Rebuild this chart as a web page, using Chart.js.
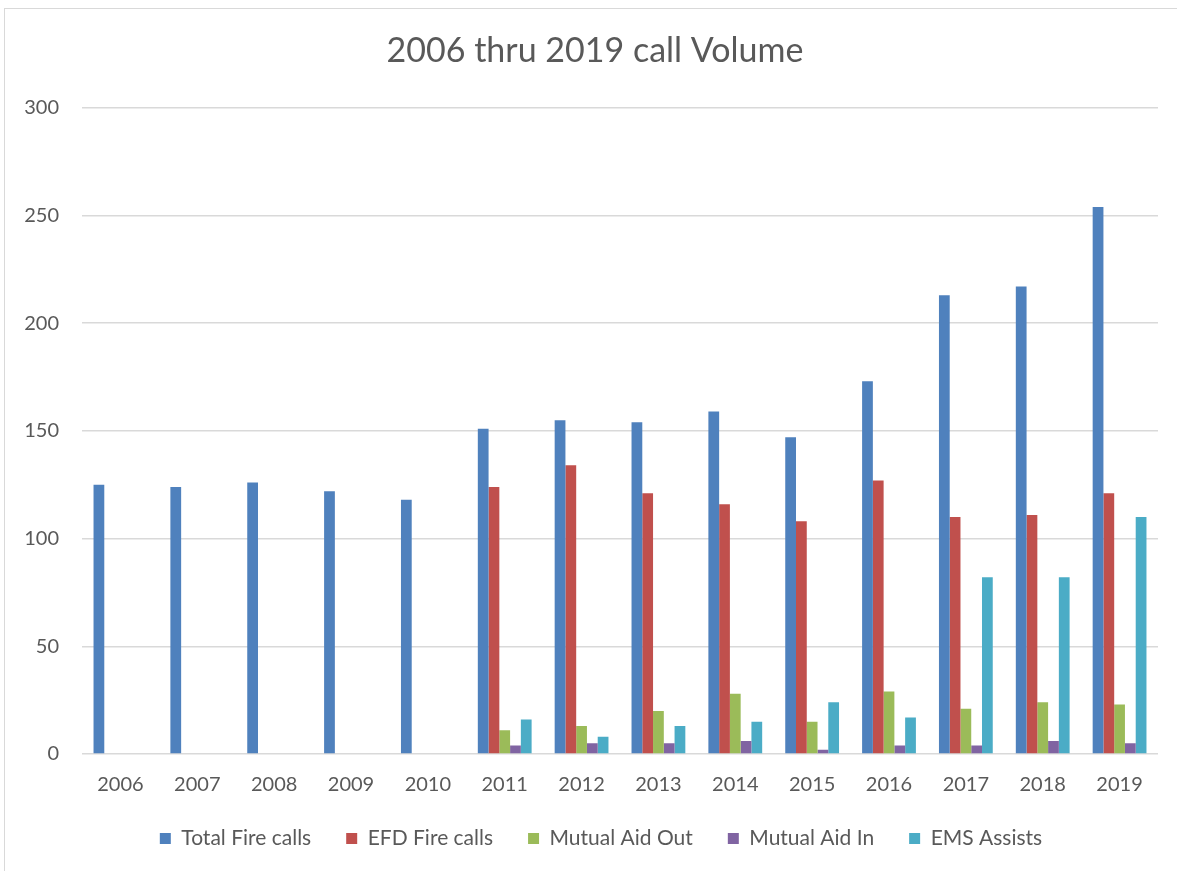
<!DOCTYPE html>
<html>
<head>
<meta charset="utf-8">
<title>2006 thru 2019 call Volume</title>
<script src="https://cdn.jsdelivr.net/npm/chart.js@4.4.1/dist/chart.umd.min.js"></script>
<style>
  html, body { margin: 0; padding: 0; background: #fff; overflow: hidden; }
  #frame {
    position: absolute; left: 4px; top: 8px;
    width: 1190px; height: 900px;
    border: 1px solid #d9d9d9;
  }
  #wrap { position: absolute; left: 0; top: 0; width: 1177px; height: 871px; }
</style>
</head>
<body>
<div id="frame"></div>
<div id="wrap"><canvas id="chart"></canvas></div>
<script>
// --- data ---
const years        = ["2006", "2007", "2008", "2009", "2010", "2011", "2012",
                      "2013", "2014", "2015", "2016", "2017", "2018", "2019"];
const totalFire    = [125, 124, 126, 122, 118, 151, 155, 154, 159, 147, 173, 213, 217, 254];
const efdFire      = [null, null, null, null, null, 124, 134, 121, 116, 108, 127, 110, 111, 121];
const mutualOut    = [null, null, null, null, null, 11, 13, 20, 28, 15, 29, 21, 24, 23];
const mutualIn     = [null, null, null, null, null, 4, 5, 5, 6, 2, 4, 4, 6, 5];
const emsAssists   = [null, null, null, null, null, 16, 8, 13, 15, 24, 17, 82, 82, 110];
const yTicks       = [0, 50, 100, 150, 200, 250, 300];

const FONT  = "Lato, 'Open Sans', sans-serif";
const GREY  = "#595959";

function series(label, data, color) {
  return {
    label,
    data,
    backgroundColor: color,
    borderWidth: 0,
    categoryPercentage: 0.70,
    barPercentage: 1.0,
  };
}

// title and legend in the original sit a little right of the canvas middle
const blockShift = {
  id: "blockShift",
  afterLayout(chart) {
    if (chart.titleBlock) chart.titleBlock.left = 32;
    if (chart.legend) chart.legend.left = 44;
  },
};

new Chart(document.getElementById("chart"), {
  type: "bar",
  data: {
    labels: years,
    datasets: [
      series("Total Fire calls", totalFire,  "#4F81BD"),
      series("EFD Fire calls",   efdFire,    "#C0504D"),
      series("Mutual Aid Out",   mutualOut,  "#9BBB59"),
      series("Mutual Aid In",    mutualIn,   "#8064A2"),
      series("EMS Assists",      emsAssists, "#4BACC6"),
    ],
  },
  plugins: [blockShift],
  options: {
    responsive: true,
    maintainAspectRatio: false,
    animation: false,
    layout: { padding: { left: 0, right: 19, top: 0, bottom: 12 } },
    plugins: {
      title: {
        display: true,
        text: "2006 thru 2019 call Volume",
        color: GREY,
        font: { family: FONT, size: 34, weight: "normal" },
        padding: { top: 31, bottom: 36 },
      },
      legend: {
        position: "bottom",
        labels: {
          color: GREY,
          font: { family: FONT, size: 21 },
          boxWidth: 11,
          boxHeight: 11,
          padding: 35,
        },
      },
      tooltip: { enabled: false },
    },
    scales: {
      x: {
        grid: { display: false, drawTicks: false },
        border: { display: false },
        ticks: { color: GREY, font: { family: FONT, size: 20, lineHeight: 1 }, padding: 21, maxRotation: 0 },
        afterFit: s => { s.height = 39; },
      },
      y: {
        min: 0,
        max: 300,
        afterBuildTicks: s => { s.ticks = yTicks.map(v => ({ value: v })); },
        grid: { color: "#d9d9d9", lineWidth: 1.5, drawTicks: false },
        border: { display: false },
        ticks: { color: GREY, font: { family: FONT, size: 20 }, padding: 23 },
        afterFit: s => { s.width = 82; },
      },
    },
  },
});
</script>
</body>
</html>
